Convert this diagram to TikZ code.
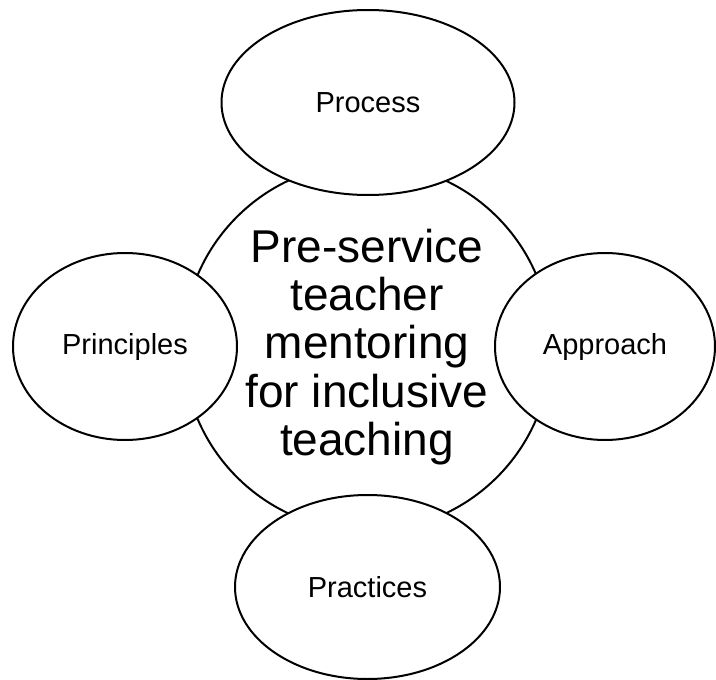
\documentclass[tikz,border=0pt]{standalone}
\usepackage{fontspec}
\setmainfont{Liberation Sans}
\usetikzlibrary{shapes.geometric}

\begin{document}
\begin{tikzpicture}[x=1pt,y=-1pt,line width=2pt,
  hub/.style={draw,circle,inner sep=0pt,align=center,font=\fontsize{46}{48.3}\selectfont},
  topic/.style={draw,ellipse,fill=white,inner sep=0pt,font=\fontsize{29}{33}\selectfont}]
  % Page limits
  \useasboundingbox (0,0) rectangle (716,680);
  % Central circle
  \node[hub,minimum size=368pt] (mentoring) at (367,347) {Pre-service\\teacher\\mentoring\\for inclusive\\teaching};
  % Ellipses around it, drawn on top
  \node[topic,minimum width=293pt,minimum height=185pt] (process) at (368,102.5) {Process};
  \node[topic,minimum width=224pt,minimum height=187pt] (principles) at (125,346.5) {Principles};
  \node[topic,minimum width=220pt,minimum height=187pt] (approach) at (605,346.5) {Approach};
  \node[topic,minimum width=265pt,minimum height=184pt] (practices) at (367.5,587) {Practices};

\end{tikzpicture}
\end{document}
